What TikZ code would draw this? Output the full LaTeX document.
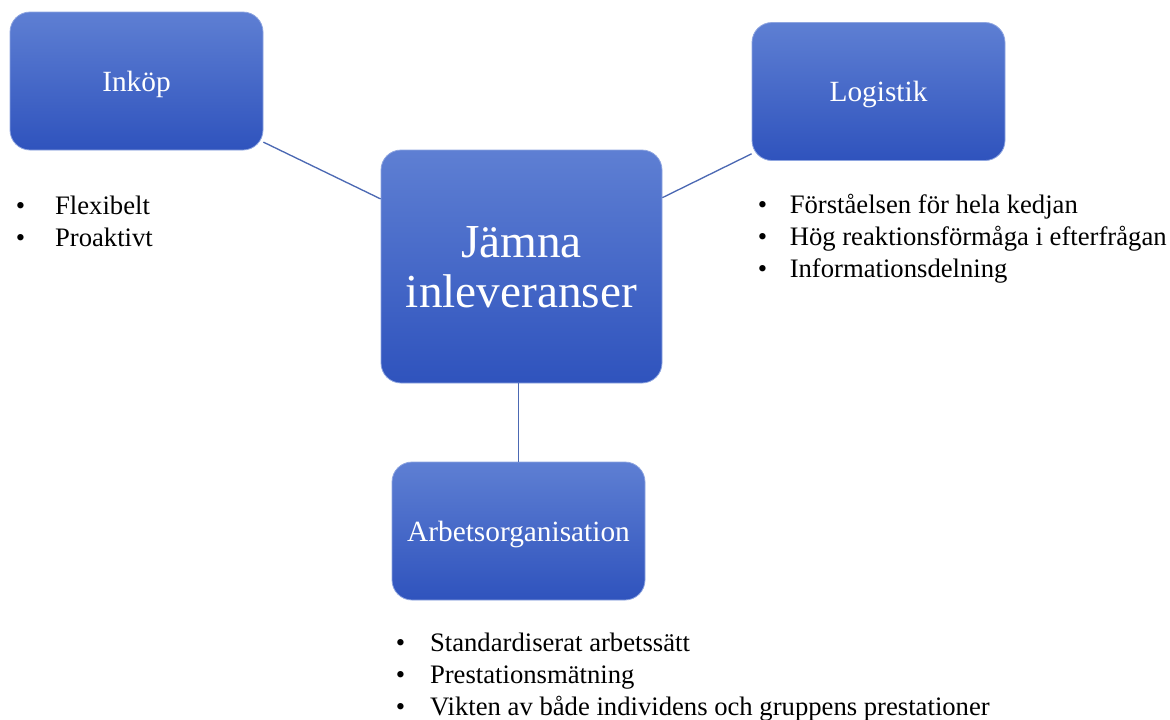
\documentclass[tikz,border=0pt]{standalone}
\usepackage{fontspec}
\setmainfont{Liberation Serif}
\usepackage{xcolor}
\definecolor{cTop}{HTML}{5E7FD3}
\definecolor{cBot}{HTML}{2F53BD}
\definecolor{cLine}{HTML}{4C69B3}
\usetikzlibrary{positioning}
\tikzset{
  topic-box/.style={rounded corners=15pt,top color=cTop,bottom color=cBot,
    draw=cTop!70!white,line width=0.6pt,minimum width=189.75pt,
    minimum height=103.5pt,text=white,align=center,text depth=0pt,
    font=\fontsize{22}{24}\selectfont},
  core-box/.style={topic-box,minimum width=210.75pt,minimum height=174.75pt,
    font=\fontsize{35.5}{37.5}\selectfont},
  link/.style={draw=cLine,line width=1pt},
  bullets/.style={anchor=base west,inner sep=0pt,
    font=\fontsize{20}{24}\selectfont},
}

\begin{document}
\begin{tikzpicture}[x=0.75pt,y=-0.75pt]
  \useasboundingbox (0,0) rectangle (1170,719);
  \node[core-box]  (jam) at (521.5,266.5) {Jämna\\inleveranser};
  \node[topic-box] (ink) at (136.5,81)    {Inköp};
  \node[topic-box] (log) at (878.5,91.5)  {Logistik};
  \node[topic-box] (arb) at (518.5,531)   {Arbetsorganisation};
  \draw[link] (ink) -- (jam);
  \draw[link] (log) -- (jam);
  \draw[link] (arb.north |- jam.south) -- (arb.north);
  % punktlistor under rutorna
  \node[bullets] (ink-list) at (15.5,214) {\begin{tabular}[t]{@{}l@{\hspace{22.5pt}}l@{}}
    • & Flexibelt\\
    • & Proaktivt
  \end{tabular}};
  \node[bullets] (log-list) at (757.5,213) {\begin{tabular}[t]{@{}l@{\hspace{17pt}}l@{}}
    • & Förståelsen för hela kedjan\\
    • & Hög reaktionsförmåga i efterfrågan\\
    • & Informationsdelning
  \end{tabular}};
  \node[bullets] (arb-list) at (395.5,651) {\begin{tabular}[t]{@{}l@{\hspace{18.7pt}}l@{}}
    • & Standardiserat arbetssätt\\
    • & Prestationsmätning\\
    • & Vikten av både individens och gruppens prestationer
  \end{tabular}};
\end{tikzpicture}
\end{document}
